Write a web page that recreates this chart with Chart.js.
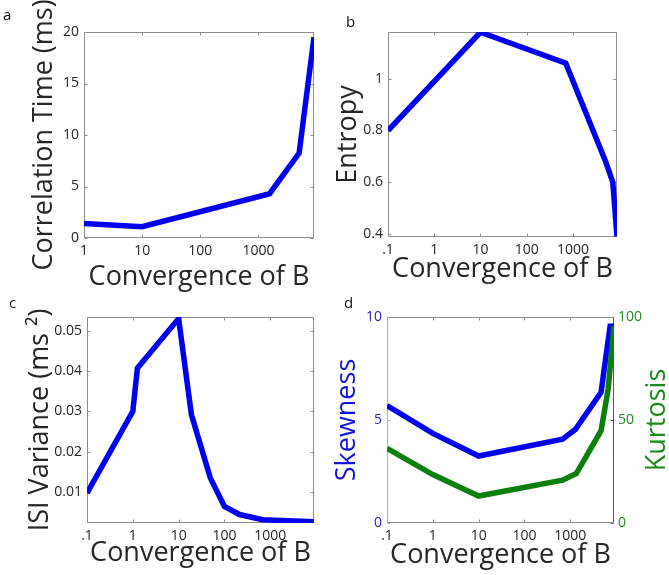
<!DOCTYPE html>
<html lang="en">
<head>
<meta charset="UTF-8">
<title>Convergence of B</title>
<script src="https://cdn.jsdelivr.net/npm/chart.js@4.4.1/dist/chart.umd.min.js"></script>
<style>
  html, body { margin: 0; padding: 0; background: #fff; }
  #fig { position: relative; width: 669px; height: 575px; overflow: hidden; font-family: "Open Sans", sans-serif; }
  #fig canvas { position: absolute; }
  .tag { position: absolute; font-size: 15px; line-height: 15px; color: #111; }
</style>
</head>
<body>
<div id="fig">
  <canvas id="chartA" width="335" height="300" style="left:0;top:0"></canvas>
  <canvas id="chartB" width="335" height="300" style="left:334px;top:0"></canvas>
  <canvas id="chartC" width="335" height="290" style="left:0;top:285px"></canvas>
  <canvas id="chartD" width="335" height="290" style="left:334px;top:285px"></canvas>
  <div class="tag" style="left:3px;top:7px">a</div>
  <div class="tag" style="left:346px;top:14px">b</div>
  <div class="tag" style="left:9px;top:295px">c</div>
  <div class="tag" style="left:344px;top:295px">d</div>
</div>

<script>
// values (x = convergence of B, log scale)
const corrX = [1, 10, 1550, 5000, 9000];
const corrY = [1.4, 1.1, 4.3, 8.25, 19.5];

const entropyX = [0.1, 10, 700, 5100, 7300, 9000];
const entropyY = [0.80, 1.18, 1.06, 0.68, 0.60, 0.39];

const isiX = [0.1, 1, 1.26, 10, 19, 49, 100, 213, 680, 9000];
const isiY = [0.0097, 0.030, 0.0407, 0.053, 0.0292, 0.0135, 0.0064, 0.0044, 0.0031, 0.0026];

const skewX = [0.1, 1, 10, 680, 1300, 4700, 7400, 9000];
const skewY = [5.7, 4.35, 3.25, 4.07, 4.55, 6.35, 9.55, 9.55];

const kurtX = [0.1, 1, 10, 680, 1350, 4700, 6700, 9000];
const kurtY = [36.2, 23.5, 13.1, 20.8, 24, 44.8, 65, 95.5];

const xTicks = [0.1, 1, 10, 100, 1000];
const xTickLabels = ['.1', '1', '10', '100', '1000'];
const xTicksA = [1, 10, 100, 1000];
const xTickLabelsA = ['1', '10', '100', '1000'];

const corrTicks = [0, 5, 10, 15, 20];
const corrTickLabels = ['0', '5', '10', '15', '20'];
const entropyTicks = [0.4, 0.6, 0.8, 1];
const entropyTickLabels = ['0.4', '0.6', '0.8', '1'];
const isiTicks = [0.01, 0.02, 0.03, 0.04, 0.05];
const isiTickLabels = ['0.01', '0.02', '0.03', '0.04', '0.05'];
const skewTicks = [0, 5, 10];
const skewTickLabels = ['0', '5', '10'];
const kurtTicks = [0, 50, 100];
const kurtTickLabels = ['0', '50', '100'];

const X_MAX = 9000;
const FONT = '"Open Sans", sans-serif';
const BLUE = '#0000f0';
const GREEN = '#0a7f0a';
const AXIS = '#8c8c8c';
const TEXT = '#262626';
const TICK_SIZE = 14;
const TITLE_SIZE = 27;

function points(xs, ys) {
    return xs.map((x, i) => ({ x: x, y: ys[i] }));
}

// fixed axis sizes so the plot boxes land where they are in the figure
function fixSize(prop, size) {
    return function (scale) {
        scale[prop] = size;
        scale.paddingLeft = scale.paddingRight = scale.paddingTop = scale.paddingBottom = 0;
    };
}

function useTicks(values) {
    return function (scale) {
        scale.ticks = values.map(v => ({ value: v }));
    };
}

// matlab-like box with small inward ticks, plus optional right-side title
const framePlugin = {
    id: 'frame',
    beforeDatasetsDraw(chart, args, opts) {
        const ctx = chart.ctx;
        const a = chart.chartArea;
        const L = a.left + 0.5, R = a.right - 0.5, T = a.top + 0.5, B = a.bottom - 0.5;
        const seg = (color, x1, y1, x2, y2) => {
            ctx.strokeStyle = color;
            ctx.beginPath();
            ctx.moveTo(x1, y1);
            ctx.lineTo(x2, y2);
            ctx.stroke();
        };
        ctx.save();
        ctx.lineWidth = 1;
        chart.scales.x.ticks.forEach(t => {
            const px = Math.round(chart.scales.x.getPixelForValue(t.value)) + 0.5;
            seg(AXIS, px, B, px, B - 3);
            seg(AXIS, px, T, px, T + 3);
        });
        chart.scales.y.ticks.forEach(t => {
            const py = Math.round(chart.scales.y.getPixelForValue(t.value)) + 0.5;
            seg(opts.left || AXIS, L, py, L + 3, py);
            seg(opts.right || AXIS, R, py, R - 3, py);
        });
        seg(AXIS, L, T, R, T);
        seg(AXIS, L, B, R, B);
        seg(opts.left || AXIS, L, T, L, B);
        seg(opts.right || AXIS, R, T, R, B);
        ctx.restore();
    },
    afterDraw(chart, args, opts) {
        if (!opts.rightTitle) return;
        const ctx = chart.ctx;
        const a = chart.chartArea;
        ctx.save();
        ctx.translate(opts.rightTitleX, (a.top + a.bottom) / 2);
        ctx.rotate(-Math.PI / 2);
        ctx.font = TITLE_SIZE + 'px ' + FONT;
        ctx.fillStyle = opts.rightTitleColor;
        ctx.textAlign = 'center';
        ctx.textBaseline = 'middle';
        ctx.fillText(opts.rightTitle, 0, 0);
        ctx.restore();
    }
};

function lineSet(xs, ys, color, axis, order) {
    return {
        data: points(xs, ys),
        yAxisID: axis,
        order: order,
        borderColor: color,
        borderWidth: 5.5,
        pointRadius: 0,
        tension: 0,
        fill: false
    };
}

function buildChart(id, p) {
    const canvas = document.getElementById(id);
    const W = canvas.width, H = canvas.height;
    const scales = {
        x: {
            type: 'logarithmic',
            min: p.xMin,
            max: X_MAX,
            afterBuildTicks: useTicks(p.xTicks),
            afterFit: fixSize('height', H - p.area.bottom),
            grid: { display: false, drawTicks: false },
            border: { display: false },
            ticks: {
                font: { family: FONT, size: TICK_SIZE }, color: TEXT, padding: 5,
                maxRotation: 0, autoSkip: false,
                callback: (v, i) => p.xLabels[i]
            },
            title: {
                display: true, text: 'Convergence of B', color: TEXT,
                font: { family: FONT, size: TITLE_SIZE, lineHeight: 1 },
                padding: { top: 0, bottom: p.xTitlePad }
            }
        },
        y: {
            type: 'linear',
            position: 'left',
            min: p.yMin,
            max: p.yMax,
            afterBuildTicks: useTicks(p.yTicks),
            afterFit: fixSize('width', p.area.left),
            grid: { display: false, drawTicks: false },
            border: { display: false },
            ticks: {
                font: { family: FONT, size: TICK_SIZE }, color: p.yColor || TEXT, padding: 5,
                autoSkip: false,
                callback: (v, i) => p.yLabels[i]
            },
            title: {
                display: true, text: p.yTitle, color: p.yTitleColor || TEXT,
                font: { family: FONT, size: TITLE_SIZE, lineHeight: 1 },
                padding: { top: p.yTitlePad, bottom: 0 }
            }
        }
    };
    if (p.y1) {
        scales.y1 = {
            type: 'linear',
            position: 'right',
            min: p.y1.min,
            max: p.y1.max,
            afterBuildTicks: useTicks(p.y1.ticks),
            afterFit: fixSize('width', W - p.area.right),
            grid: { display: false, drawTicks: false },
            border: { display: false },
            ticks: {
                font: { family: FONT, size: TICK_SIZE }, color: p.y1.color, padding: 4,
                autoSkip: false,
                callback: (v, i) => p.y1.labels[i]
            }
        };
    }
    return new Chart(canvas, {
        type: 'line',
        data: { datasets: p.datasets },
        plugins: [framePlugin],
        options: {
            responsive: false,
            animation: false,
            events: [],
            layout: { padding: { left: 0, top: p.area.top, right: p.y1 ? 0 : W - p.area.right, bottom: 0 } },
            scales: scales,
            plugins: {
                legend: { display: false },
                tooltip: { enabled: false },
                frame: p.frame || {}
            }
        }
    });
}

buildChart('chartA', {
    area: { left: 84, top: 32, right: 314, bottom: 238 },
    xMin: 1, xTicks: xTicksA, xLabels: xTickLabelsA, xTitlePad: 9,
    yMin: 0, yMax: 20, yTicks: corrTicks, yLabels: corrTickLabels,
    yTitle: 'Correlation Time (ms)', yTitlePad: 30.5,
    datasets: [lineSet(corrX, corrY, BLUE, 'y', 0)]
});

buildChart('chartB', {
    area: { left: 54, top: 32, right: 283, bottom: 237 },
    xMin: 0.1, xTicks: xTicks, xLabels: xTickLabels, xTitlePad: 17,
    yMin: 0.388, yMax: 1.181, yTicks: entropyTicks, yLabels: entropyTickLabels,
    yTitle: 'Entropy', yTitlePad: 0.5,
    datasets: [lineSet(entropyX, entropyY, BLUE, 'y', 0)]
});

buildChart('chartC', {
    area: { left: 87, top: 32, right: 314, bottom: 238 },
    xMin: 0.1, xTicks: xTicks, xLabels: xTickLabels, xTitlePad: 8.2,
    yMin: 0.0023, yMax: 0.0534, yTicks: isiTicks, yLabels: isiTickLabels,
    yTitle: 'ISI Variance (ms \u00b2)', yTitlePad: 26.5,
    datasets: [lineSet(isiX, isiY, BLUE, 'y', 0)]
});

buildChart('chartD', {
    area: { left: 53, top: 32, right: 280, bottom: 238 },
    xMin: 0.1, xTicks: xTicks, xLabels: xTickLabels, xTitlePad: 6.5,
    yMin: 0, yMax: 10, yTicks: skewTicks, yLabels: skewTickLabels,
    yColor: '#2424c8', yTitle: 'Skewness', yTitleColor: '#1414d8', yTitlePad: 0,
    y1: { min: 0, max: 100, ticks: kurtTicks, labels: kurtTickLabels, color: '#1f8a1f' },
    frame: { left: '#aaaae6', right: '#3f5b86', rightTitle: 'Kurtosis', rightTitleX: 323, rightTitleColor: '#198a19' },
    datasets: [
        lineSet(skewX, skewY, BLUE, 'y', 1),
        lineSet(kurtX, kurtY, GREEN, 'y1', 0)
    ]
});
</script>
</body>
</html>
